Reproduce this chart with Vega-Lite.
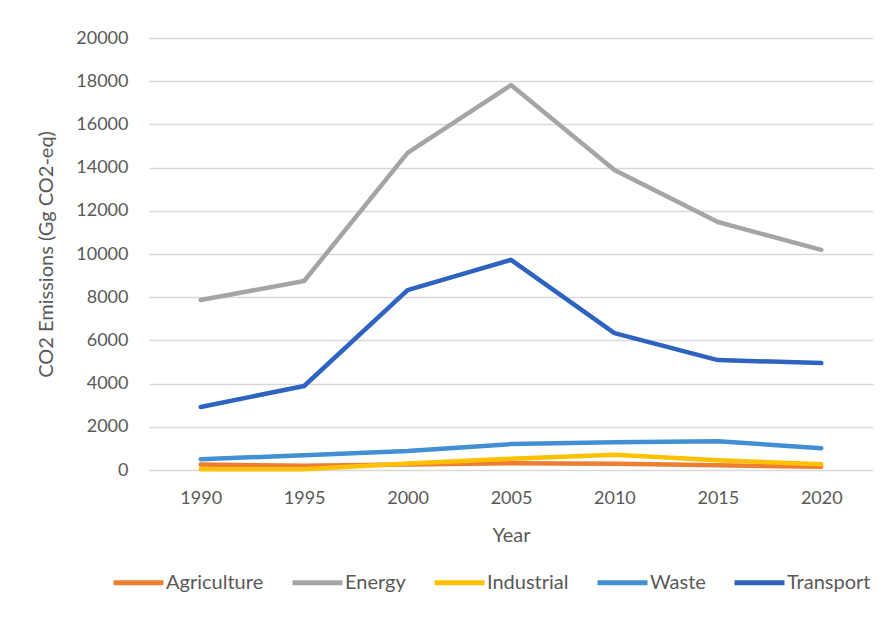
{
  "$schema": "https://vega.github.io/schema/vega-lite/v6.json",
  "width": 724,
  "height": 432,
  "autosize": {"type": "none"},
  "padding": {"left": 149, "top": 38, "right": 13, "bottom": 158},
  "background": "white",
  "config": {
    "view": {"stroke": null},
    "font": "Lato",
    "axis": {"labelColor": "#595959", "titleColor": "#595959", "labelFont": "Lato", "titleFont": "Lato", "titleFontWeight": "normal"},
    "legend": {"labelColor": "#595959", "labelFont": "Lato"}
  },
  "data": {
    "values": [
      {"Year": "1990", "Sector": "Agriculture", "Value": 250},
      {"Year": "1995", "Sector": "Agriculture", "Value": 200},
      {"Year": "2000", "Sector": "Agriculture", "Value": 260},
      {"Year": "2005", "Sector": "Agriculture", "Value": 310},
      {"Year": "2010", "Sector": "Agriculture", "Value": 290},
      {"Year": "2015", "Sector": "Agriculture", "Value": 220},
      {"Year": "2020", "Sector": "Agriculture", "Value": 150},
      {"Year": "1990", "Sector": "Energy", "Value": 7870},
      {"Year": "1995", "Sector": "Energy", "Value": 8750},
      {"Year": "2000", "Sector": "Energy", "Value": 14680},
      {"Year": "2005", "Sector": "Energy", "Value": 17820},
      {"Year": "2010", "Sector": "Energy", "Value": 13890},
      {"Year": "2015", "Sector": "Energy", "Value": 11480},
      {"Year": "2020", "Sector": "Energy", "Value": 10190},
      {"Year": "1990", "Sector": "Industrial", "Value": 30},
      {"Year": "1995", "Sector": "Industrial", "Value": 40},
      {"Year": "2000", "Sector": "Industrial", "Value": 300},
      {"Year": "2005", "Sector": "Industrial", "Value": 520},
      {"Year": "2010", "Sector": "Industrial", "Value": 710},
      {"Year": "2015", "Sector": "Industrial", "Value": 450},
      {"Year": "2020", "Sector": "Industrial", "Value": 270},
      {"Year": "1990", "Sector": "Waste", "Value": 500},
      {"Year": "1995", "Sector": "Waste", "Value": 680},
      {"Year": "2000", "Sector": "Waste", "Value": 880},
      {"Year": "2005", "Sector": "Waste", "Value": 1200},
      {"Year": "2010", "Sector": "Waste", "Value": 1290},
      {"Year": "2015", "Sector": "Waste", "Value": 1330},
      {"Year": "2020", "Sector": "Waste", "Value": 1010},
      {"Year": "1990", "Sector": "Transport", "Value": 2920},
      {"Year": "1995", "Sector": "Transport", "Value": 3890},
      {"Year": "2000", "Sector": "Transport", "Value": 8330},
      {"Year": "2005", "Sector": "Transport", "Value": 9730},
      {"Year": "2010", "Sector": "Transport", "Value": 6340},
      {"Year": "2015", "Sector": "Transport", "Value": 5090},
      {"Year": "2020", "Sector": "Transport", "Value": 4950}
    ]
  },
  "mark": {"type": "line", "strokeWidth": 4.5, "strokeCap": "round", "strokeJoin": "round"},
  "encoding": {
    "x": {
      "field": "Year", "type": "ordinal",
      "scale": {"type": "point", "padding": 0.5},
      "axis": {"title": "Year", "labelAngle": 0, "labelFontSize": 18, "titleFontSize": 20, "domain": false, "ticks": false, "labelPadding": 19, "titlePadding": 18, "grid": false}
    },
    "y": {
      "field": "Value", "type": "quantitative",
      "scale": {"domain": [0, 20000], "nice": false},
      "axis": {"title": "CO2 Emissions (Gg CO2-eq)", "values": [0, 2000, 4000, 6000, 8000, 10000, 12000, 14000, 16000, 18000, 20000], "format": "d", "labelFontSize": 18, "titleFontSize": 20, "domain": false, "ticks": false, "labelPadding": 21, "titlePadding": 19, "gridColor": "#d9d9d9", "gridWidth": 1.3}
    },
    "color": {
      "field": "Sector", "type": "nominal",
      "scale": {"domain": ["Agriculture", "Energy", "Industrial", "Waste", "Transport"], "range": ["#ED7D31", "#A5A5A5", "#FFC000", "#4090D3", "#2E64C0"]},
      "legend": {"title": null, "orient": "none", "direction": "horizontal", "legendX": -38, "legendY": 517, "symbolType": "stroke", "symbolSize": 2500, "symbolStrokeWidth": 5, "labelFontSize": 20, "labelOffset": 0, "columnPadding": 18}
    },
    "order": {"field": "Sector"}
  }
}
